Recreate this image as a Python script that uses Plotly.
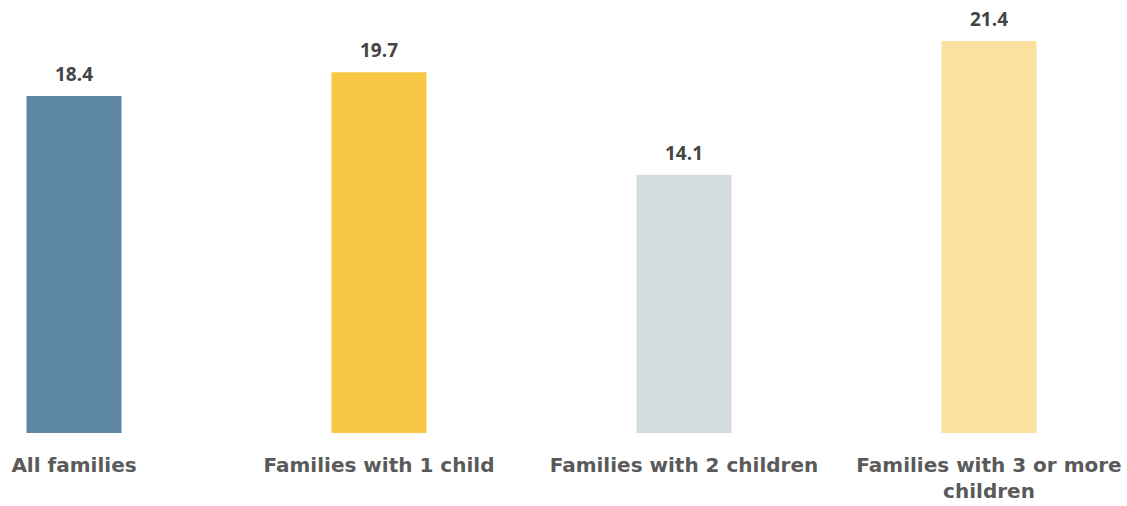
import plotly.graph_objects as go

categories = ["All families", "Families with 1 child", "Families with 2 children",
              "Families with 3 or more<br>children"]
values = [18.4, 19.7, 14.1, 21.4]
colors = ["#5E87A3", "#F8C844", "#D2DBDE", "#FAE19F"]
value_labels = ["18.4", "19.7", "14.1", "21.4"]

xs = list(range(len(categories)))

fig = go.Figure()
fig.add_trace(go.Bar(
    x=xs, y=values, width=0.3115,
    marker=dict(color=colors, line=dict(width=0)),
    hoverinfo="skip",
))

for x, v, t in zip(xs, values, value_labels):
    fig.add_annotation(x=x, y=v, text=t, showarrow=False, yanchor="bottom", yshift=7,
                       font=dict(family="Open Sans", size=19, color="#444444", weight="bold"))

fig.update_layout(
    width=1127, height=506,
    margin=dict(l=0, r=0, t=0, b=73),
    paper_bgcolor="white", plot_bgcolor="white",
    showlegend=False,
    xaxis=dict(range=[-0.2426, 3.4525], tickmode="array", tickvals=xs, ticktext=categories,
               showgrid=False, zeroline=False, showline=False, ticks="", automargin=False,
               ticklabelstandoff=18,
               tickfont=dict(family="DejaVu Sans", size=20, color="#5A5A5A", weight="bold")),
    yaxis=dict(range=[0, 23.64], visible=False, showgrid=False, zeroline=False),
)

fig.write_html("out.html")
